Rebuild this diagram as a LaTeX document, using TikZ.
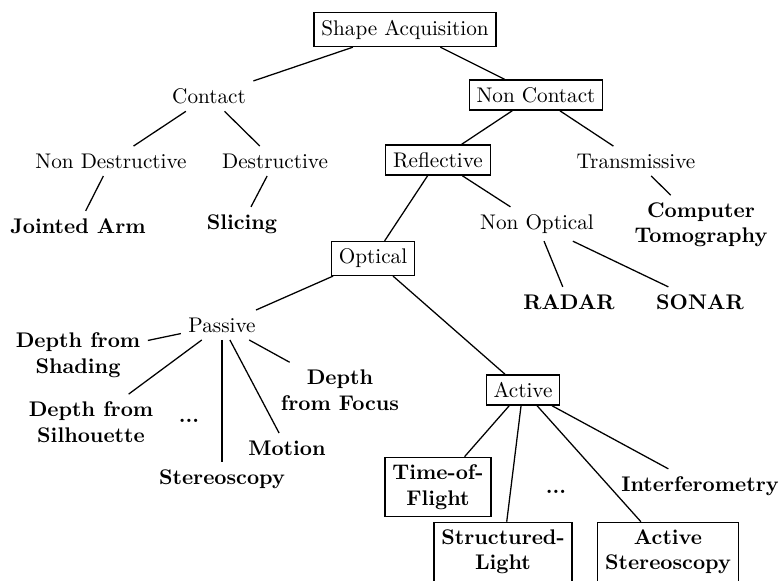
\documentclass[tikz,border=0pt]{standalone}
\begin{document}
\begin{tikzpicture}[x=0.472pt,y=-0.472pt,
  box/.style={draw,line width=0.6pt,inner sep=3.5pt,align=center},
  plain/.style={inner sep=3.4pt,align=center},
  leaf/.style={plain,font=\bfseries},
  leafbox/.style={box,font=\bfseries},
  conn/.style={line width=0.6pt}]
\useasboundingbox (0,0) rectangle (782,581);
\node[box] (sa) at (405,29.5) {Shape Acquisition};
\node[plain] (contact) at (209,96) {Contact};
\node[box] (nc) at (536,95) {Non Contact};
\node[plain] (nd) at (111,161) {Non Destructive};
\node[plain] (des) at (275,161) {Destructive};
\node[leaf] (ja) at (78,226) {Jointed Arm};
\node[leaf] (sl) at (242,224) {Slicing};
\node[box] (ref) at (438,160) {Reflective};
\node[plain] (tr) at (636,161) {Transmissive};
\node[leaf] (ct) at (701,225) {Computer\\Tomography};
\node[box] (opt) at (373,258.5) {Optical};
\node[plain] (no) at (537,224) {Non Optical};
\node[leaf] (radar) at (569,302) {RADAR};
\node[leaf] (sonar) at (700,302) {SONAR};
\node[plain] (pas) at (222,325) {Passive};
\node[leaf] (dsh) at (78,355) {Depth from\\Shading};
\node[leaf] (dsi) at (91,422) {Depth from\\Silhouette};
\node[leaf] (pdots) at (189,421) {...};
\node[leaf] (ste) at (222,479) {Stereoscopy};
\node[leaf] (mot) at (287,448) {Motion};
\node[leaf] (dfo) at (340,390) {Depth\\from Focus};
\node[box] (act) at (523,390) {Active};
\node[leafbox] (tof) at (438,487) {Time-of-\\Flight};
\node[leaf] (adots) at (556,492) {...};
\node[leaf] (int) at (700,486) {Interferometry};
\node[leafbox] (sli) at (503,552) {Structured-\\Light};
\node[leafbox] (ast) at (668,552) {Active\\Stereoscopy};
\draw[conn] (sa) -- (contact);
\draw[conn] (sa) -- (nc);
\draw[conn] (contact) -- (nd);
\draw[conn] (contact) -- (des);
\draw[conn] (nd) -- (ja);
\draw[conn] (des) -- (sl);
\draw[conn] (nc) -- (ref);
\draw[conn] (nc) -- (tr);
\draw[conn] (tr) -- (ct);
\draw[conn] (ref) -- (opt);
\draw[conn] (ref) -- (no);
\draw[conn] (no) -- (radar);
\draw[conn] (no) -- (sonar);
\draw[conn] (opt) -- (pas);
\draw[conn] (opt) -- (act);
\draw[conn] (pas) -- (dsh);
\draw[conn] (pas) -- (dsi);
\draw[conn] (pas) -- (ste);
\draw[conn] (pas) -- (mot);
\draw[conn] (pas) -- (dfo);
\draw[conn] (act) -- (tof);
\draw[conn] (act) -- (sli);
\draw[conn] (act) -- (ast);
\draw[conn] (act) -- (int);
\end{tikzpicture}
\end{document}
